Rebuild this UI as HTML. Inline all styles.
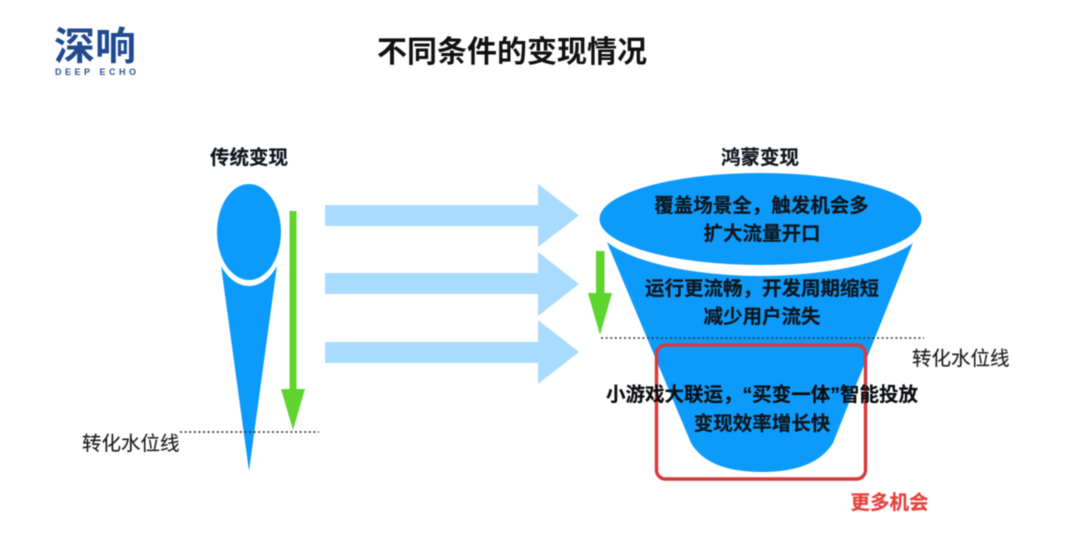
<!DOCTYPE html>
<html lang="zh-CN">
<head>
<meta charset="utf-8">
<title>不同条件的变现情况</title>
<style>
html,body{margin:0;padding:0;background:#fff;width:1080px;height:558px;overflow:hidden}
svg{display:block;filter:blur(0.45px)}
text{font-family:"Liberation Sans","Noto Sans CJK SC",sans-serif}
.c{font-family:"Noto Sans CJK SC","Liberation Sans",sans-serif;font-size:19.5px;font-weight:700;fill:#0f161d;stroke:#0f161d;stroke-width:.2px;text-anchor:middle}
.r{font-family:"Noto Sans CJK SC","Liberation Sans",sans-serif;font-size:19.5px;font-weight:400;fill:#1c1c1c;stroke:#1c1c1c;stroke-width:.15px}
</style>
</head>
<body>
<svg width="1080" height="558" viewBox="0 0 1080 558" xmlns="http://www.w3.org/2000/svg">
  <rect width="1080" height="558" fill="#fff"/>

  <!-- logo -->
  <text x="54" y="60" font-size="39" font-weight="700" fill="#1f4a92" textLength="82" lengthAdjust="spacingAndGlyphs" style="font-family:'Noto Sans CJK SC',sans-serif">深响</text>
  <text x="55" y="75" font-size="9" font-weight="700" fill="#2d5596" textLength="81" lengthAdjust="spacing" style="font-family:'Liberation Sans',sans-serif">DEEP ECHO</text>

  <!-- title -->
  <text x="512" y="62" class="c" style="font-size:30px;fill:#111;stroke:none">不同条件的变现情况</text>

  <!-- left funnel -->
  <polygon points="220.5,262 277.5,262 249,471" fill="#0d9bfb"/>
  <ellipse cx="249" cy="232" rx="36" ry="54" fill="#fff"/>
  <ellipse cx="249" cy="232" rx="32" ry="48" fill="#0d9bfb"/>

  <!-- left green arrow -->
  <polygon points="289.5,211 296.5,211 296.5,389 305,389 293,430 281,389 289.5,389" fill="#5ed42f"/>

  <!-- left water line -->
  <line x1="180" y1="432" x2="319" y2="432" stroke="#222" stroke-width="1.6" stroke-dasharray="2 2.6"/>
  <text x="82" y="450" class="r">转化水位线</text>

  <!-- light arrows -->
  <polygon points="325,205 538,205 538,184 579,215.5 538,247 538,226 325,226" fill="#a9dbfe"/>
  <polygon points="325,273 538,273 538,252 579,284 538,316 538,294 325,294" fill="#a9dbfe"/>
  <polygon points="325,342 538,342 538,320 579,352 538,384 538,363 325,363" fill="#a9dbfe"/>

  <!-- right funnel -->
  <path d="M606,240 L914,240 L833,443 Q815,472 762,472 Q708,472 691,443 Z" fill="#0d9bfb"/>
  <ellipse cx="760.5" cy="219" rx="168" ry="57" fill="#fff"/>
  <ellipse cx="760.5" cy="219" rx="161" ry="46" fill="#0d9bfb"/>

  <!-- headings, drawn after the white ellipse -->
  <text x="249" y="164" class="c">传统变现</text>
  <text x="760" y="164" class="c">鸿蒙变现</text>

  <!-- right green arrow -->
  <polygon points="596,251 604.5,251 604.5,293 612,293 600,335 588,293 596,293" fill="#5ed42f"/>

  <!-- right water line -->
  <line x1="601" y1="338" x2="924" y2="338" stroke="#333" stroke-width="1.6" stroke-dasharray="2 2.6"/>
  <text x="912" y="365" class="r">转化水位线</text>

  <!-- red box -->
  <rect x="656.5" y="345" width="209" height="134" rx="9" ry="9" fill="none" stroke="#d8393a" stroke-width="3.4"/>

  <!-- funnel labels -->
  <text x="761.5" y="212" class="c">覆盖场景全，触发机会多</text>
  <text x="762" y="240" class="c">扩大流量开口</text>
  <text x="762" y="295" class="c">运行更流畅，开发周期缩短</text>
  <text x="762" y="323" class="c">减少用户流失</text>
  <text x="762" y="401" class="c" style="fill:#0b0d10;font-family:'Liberation Sans','Noto Sans CJK SC',sans-serif">小游戏大联运，“买变一体”智能投放</text>
  <text x="762" y="430" class="c">变现效率增长快</text>

  <text x="889.5" y="509" class="c" style="fill:#e8413c;stroke:#e8413c">更多机会</text>
</svg>
</body>
</html>
